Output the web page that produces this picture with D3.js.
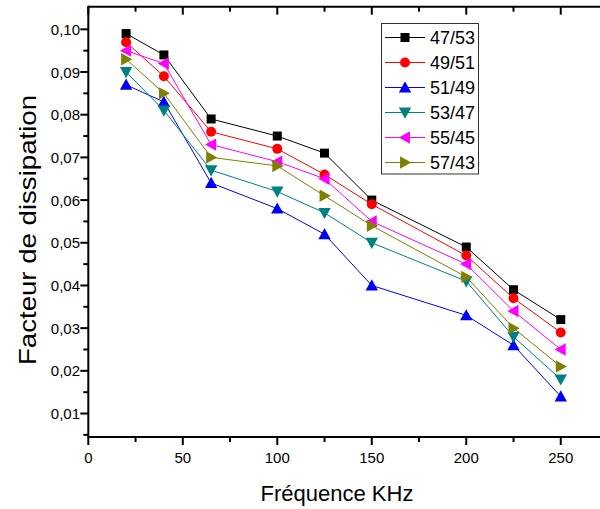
<!DOCTYPE html>
<html>
<head>
<meta charset="utf-8">
<script src="https://cdn.jsdelivr.net/npm/d3@7"></script>
<style>
  html, body { margin: 0; padding: 0; background: #fff; }
  svg { display: block; font-family: "Liberation Sans", Arial, sans-serif; }
</style>
</head>
<body>
<svg id="chart" width="600" height="509"></svg>
<script>
// Frequencies (kHz)
const frequencies = [20, 40, 65, 100, 125, 150, 200, 225, 250];

// Dissipation factor per composition
const s4753 = [0.099, 0.094, 0.079, 0.075, 0.071, 0.060, 0.049, 0.039, 0.032];
const s4951 = [0.097, 0.089, 0.076, 0.072, 0.066, 0.059, 0.047, 0.037, 0.029];
const s5149 = [0.087, 0.083, 0.064, 0.058, 0.052, 0.040, 0.033, 0.026, 0.014];
const s5347 = [0.090, 0.081, 0.067, 0.062, 0.057, 0.050, 0.041, 0.028, 0.018];
const s5545 = [0.095, 0.092, 0.073, 0.069, 0.065, 0.055, 0.045, 0.034, 0.025];
const s5743 = [0.093, 0.085, 0.070, 0.068, 0.061, 0.054, 0.042, 0.030, 0.021];

const seriesNames = ["47/53", "49/51", "51/49", "53/47", "55/45", "57/43"];

// Axis ticks
const xMajorTicks = [0, 50, 100, 150, 200, 250];
const xMinorTicks = [25, 75, 125, 175, 225];
const yMajorTicks = [0.01, 0.02, 0.03, 0.04, 0.05, 0.06, 0.07, 0.08, 0.09, 0.10];
const yMinorTicks = [0.005, 0.015, 0.025, 0.035, 0.045, 0.055, 0.065, 0.075, 0.085, 0.095];

const series = [
  { name: seriesNames[0], values: s4753, color: "#000000", symbol: "square" },
  { name: seriesNames[1], values: s4951, color: "#ff0000", symbol: "circle" },
  { name: seriesNames[2], values: s5149, color: "#0000ff", symbol: "up" },
  { name: seriesNames[3], values: s5347, color: "#008080", symbol: "down" },
  { name: seriesNames[4], values: s5545, color: "#ff00ff", symbol: "left" },
  { name: seriesNames[5], values: s5743, color: "#808000", symbol: "right" }
];

const svg = d3.select("#chart");

const x = d3.scaleLinear().domain([0, 275]).range([88.3, 608]);
const y = d3.scaleLinear().domain([0.0045, 0.1053]).range([437, 6.7]);

const xLeft = x(0), xRight = 600, yBottom = y(0.0045), yTop = y(0.1053);

const fmtY = v => d3.format(".2f")(v).replace(".", ",");

// Marker outlines, centred on the data point
function markerPath(kind) {
  const q = 4.5;
  const t = 6.2;
  switch (kind) {
    case "square": return `M${-q},${-q}H${q}V${q}H${-q}Z`;
    case "circle": return d3.symbol(d3.symbolCircle, 78)();
    case "up":    return `M0,${-t}L${t},${t * 0.8}L${-t},${t * 0.8}Z`;
    case "down":  return `M0,${t}L${t},${-t * 0.8}L${-t},${-t * 0.8}Z`;
    case "left":  return `M${-t},0L${t * 0.8},${-t}L${t * 0.8},${t}Z`;
    case "right": return `M${t},0L${-t * 0.8},${-t}L${-t * 0.8},${t}Z`;
  }
}

// Data lines and markers
const line = d3.line().x((d, i) => x(frequencies[i])).y(d => y(d));
const g = svg.append("g");
series.forEach(s => {
  g.append("path")
    .attr("d", line(s.values))
    .attr("fill", "none")
    .attr("stroke", s.color)
    .attr("stroke-width", 1);
});
series.forEach(s => {
  g.selectAll(null)
    .data(s.values)
    .enter()
    .append("path")
    .attr("transform", (d, i) => `translate(${x(frequencies[i])},${y(d)})`)
    .attr("d", markerPath(s.symbol))
    .attr("fill", s.color);
});

// Axes frame
const axis = svg.append("g").attr("stroke", "#000").attr("stroke-width", 2).attr("fill", "none");
axis.append("line").attr("x1", xLeft).attr("x2", xRight).attr("y1", yBottom).attr("y2", yBottom);
axis.append("line").attr("x1", xLeft).attr("x2", xRight).attr("y1", yTop).attr("y2", yTop);
axis.append("line").attr("x1", xLeft).attr("x2", xLeft).attr("y1", yTop - 1).attr("y2", yBottom + 1);

// Bottom ticks (outward)
xMajorTicks.forEach(v => axis.append("line").attr("x1", x(v)).attr("x2", x(v)).attr("y1", yBottom).attr("y2", yBottom + 8));
xMinorTicks.forEach(v => axis.append("line").attr("x1", x(v)).attr("x2", x(v)).attr("y1", yBottom).attr("y2", yBottom + 5));
// Top ticks (inward)
xMajorTicks.forEach(v => axis.append("line").attr("x1", x(v)).attr("x2", x(v)).attr("y1", yTop).attr("y2", yTop + 8));
xMinorTicks.forEach(v => axis.append("line").attr("x1", x(v)).attr("x2", x(v)).attr("y1", yTop).attr("y2", yTop + 5));
// Left ticks (outward)
yMajorTicks.forEach(v => axis.append("line").attr("x1", xLeft - 8).attr("x2", xLeft).attr("y1", y(v)).attr("y2", y(v)));
yMinorTicks.forEach(v => axis.append("line").attr("x1", xLeft - 5).attr("x2", xLeft).attr("y1", y(v)).attr("y2", y(v)));

// Tick labels
svg.append("g").selectAll("text")
  .data(xMajorTicks).enter().append("text")
  .attr("x", d => x(d)).attr("y", 463)
  .attr("text-anchor", "middle")
  .attr("font-size", 15)
  .text(d => d);

svg.append("g").selectAll("text")
  .data(yMajorTicks).enter().append("text")
  .attr("x", 80).attr("y", d => y(d) + 5.5)
  .attr("text-anchor", "end")
  .attr("font-size", 15)
  .text(fmtY);

// Axis titles
svg.append("text")
  .attr("x", 337).attr("y", 501)
  .attr("text-anchor", "middle")
  .attr("font-size", 22)
  .text("Fréquence KHz");

svg.append("text")
  .attr("transform", "translate(36,230) rotate(-90)")
  .attr("text-anchor", "middle")
  .attr("font-size", 24)
  .attr("textLength", 270)
  .attr("lengthAdjust", "spacingAndGlyphs")
  .text("Facteur de dissipation");

// Legend
const legend = svg.append("g");
legend.append("rect")
  .attr("x", 381.5).attr("y", 23.5).attr("width", 97).attr("height", 150.5)
  .attr("fill", "#fff").attr("stroke", "#333").attr("stroke-width", 1);
series.forEach((s, i) => {
  const cy = 37.5 + i * 25;
  legend.append("line").attr("x1", 385).attr("x2", 425).attr("y1", cy).attr("y2", cy)
    .attr("stroke", s.color).attr("stroke-width", 1);
  legend.append("path").attr("transform", `translate(405,${cy})`).attr("d", markerPath(s.symbol)).attr("fill", s.color);
  legend.append("text").attr("x", 430).attr("y", cy + 6.5).attr("font-size", 18).text(s.name);
});
</script>
</body>
</html>
